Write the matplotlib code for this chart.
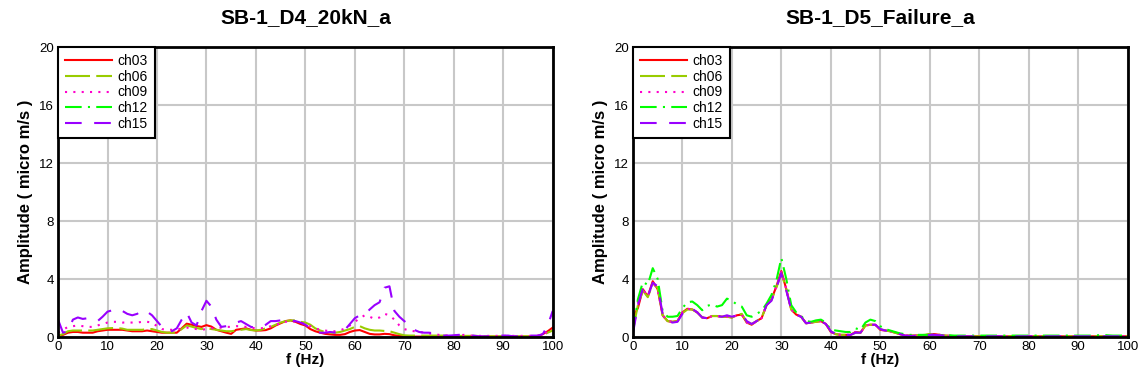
import numpy as np
import matplotlib
matplotlib.use("Agg")
import matplotlib.pyplot as plt

plt.rcParams["font.family"] = ["Liberation Sans", "DejaVu Sans"]

# frequency axis shared by both panels (1 Hz steps)
freq = list(range(0, 101))

titles = ["SB-1_D4_20kN_a", "SB-1_D5_Failure_a"]
channels = ["ch03", "ch06", "ch09", "ch12", "ch15"]

# --- left panel: SB-1_D4_20kN_a ---
d4_ch03 = [0.1, 0.15, 0.3, 0.35, 0.35, 0.3, 0.3, 0.3, 0.4, 0.45,
           0.5, 0.5, 0.5, 0.5, 0.45, 0.4, 0.4, 0.4, 0.45, 0.4,
           0.35, 0.3, 0.3, 0.3, 0.3, 0.6, 0.92, 0.85, 0.76, 0.7,
           0.82, 0.72, 0.5, 0.4, 0.3, 0.22, 0.5, 0.55, 0.6, 0.5,
           0.45, 0.45, 0.48, 0.6, 0.8, 0.95, 1.1, 1.15, 1.05, 0.9,
           0.8, 0.55, 0.4, 0.3, 0.22, 0.18, 0.15, 0.15, 0.2, 0.35,
           0.45, 0.48, 0.35, 0.22, 0.18, 0.18, 0.22, 0.2, 0.12, 0.08,
           0.06, 0.04, 0.03, 0.03, 0.03, 0.03, 0.03, 0.03, 0.03, 0.03,
           0.03, 0.03, 0.03, 0.03, 0.03, 0.03, 0.03, 0.03, 0.03, 0.03,
           0.03, 0.03, 0.03, 0.03, 0.03, 0.03, 0.03, 0.05, 0.2, 0.4,
           0.65]
d4_ch06 = [0.1, 0.2, 0.4, 0.45, 0.45, 0.45, 0.45, 0.45, 0.5, 0.55,
           0.6, 0.62, 0.62, 0.58, 0.5, 0.5, 0.5, 0.5, 0.55, 0.55,
           0.45, 0.35, 0.3, 0.3, 0.3, 0.55, 0.8, 0.72, 0.62, 0.55,
           0.6, 0.55, 0.5, 0.45, 0.4, 0.4, 0.45, 0.5, 0.55, 0.48,
           0.45, 0.5, 0.6, 0.7, 0.85, 1.0, 1.1, 1.15, 1.15, 1.05,
           1.0, 0.85, 0.6, 0.45, 0.35, 0.3, 0.3, 0.35, 0.45, 0.55,
           0.7, 0.75, 0.6, 0.5, 0.45, 0.45, 0.42, 0.4, 0.3, 0.2,
           0.12, 0.1, 0.1, 0.1, 0.1, 0.1, 0.1, 0.1, 0.1, 0.1,
           0.08, 0.08, 0.08, 0.08, 0.08, 0.08, 0.05, 0.05, 0.05, 0.05,
           0.05, 0.05, 0.05, 0.05, 0.05, 0.05, 0.05, 0.08, 0.15, 0.3,
           0.45]
d4_ch09 = [0.3, 0.5, 0.7, 0.75, 0.8, 0.75, 0.7, 0.7, 0.8, 0.9,
           1.0, 1.05, 1.05, 1.0, 1.0, 1.0, 1.0, 1.05, 1.05, 1.0,
           0.75, 0.55, 0.5, 0.5, 0.5, 0.6, 0.65, 0.6, 0.55, 0.5,
           0.55, 0.6, 0.6, 0.65, 0.7, 0.7, 0.75, 0.75, 0.7, 0.65,
           0.6, 0.6, 0.65, 0.75, 0.85, 0.95, 1.05, 1.1, 1.05, 1.0,
           0.9, 0.75, 0.6, 0.5, 0.45, 0.4, 0.4, 0.45, 0.6, 0.8,
           1.05, 1.3, 1.5, 1.4, 1.25, 1.35, 1.6, 1.5, 1.2, 0.8,
           0.55, 0.45, 0.4, 0.35, 0.3, 0.25, 0.2, 0.15, 0.12, 0.1,
           0.1, 0.12, 0.15, 0.12, 0.08, 0.08, 0.08, 0.08, 0.08, 0.08,
           0.08, 0.08, 0.08, 0.08, 0.08, 0.08, 0.08, 0.1, 0.2, 0.35,
           0.55]
d4_ch12 = []  # no trace drawn for ch12 in this record
d4_ch15 = [1.2, 0.3, 0.4, 1.2, 1.35, 1.25, 1.3, 1.2, 1.1, 1.4,
           1.75, 1.85, 1.7, 1.8, 1.6, 1.5, 1.6, 1.85, 1.75, 1.5,
           1.1, 0.7, 0.5, 0.4, 0.6, 1.2, 1.7, 1.0, 0.8, 1.8,
           2.5, 2.1, 1.2, 0.7, 0.75, 0.9, 1.0, 1.1, 0.9, 0.7,
           0.65, 0.7, 0.85, 1.1, 1.1, 1.15, 1.15, 1.15, 1.1, 1.0,
           0.85, 0.6, 0.4, 0.3, 0.3, 0.35, 0.3, 0.3, 0.5, 0.9,
           1.3, 1.5, 1.55, 1.9, 2.2, 2.4, 3.4, 3.5, 1.8, 1.4,
           1.1, 0.8, 0.5, 0.35, 0.3, 0.3, 0.25, 0.15, 0.1, 0.1,
           0.12, 0.15, 0.15, 0.15, 0.1, 0.05, 0.05, 0.05, 0.1, 0.1,
           0.1, 0.1, 0.05, 0.05, 0.05, 0.1, 0.1, 0.1, 0.2, 0.8,
           1.8]

# --- right panel: SB-1_D5_Failure_a ---
d5_ch03 = [1.4, 2.0, 3.3, 2.8, 3.85, 3.3, 1.5, 1.1, 1.05, 1.1,
           1.7, 1.95, 1.9, 1.7, 1.35, 1.3, 1.45, 1.45, 1.4, 1.4,
           1.35, 1.5, 1.55, 1.0, 0.85, 1.1, 1.3, 2.2, 2.6, 3.5,
           4.55, 3.3, 1.9, 1.55, 1.4, 0.95, 1.0, 1.05, 1.1, 0.9,
           0.35, 0.2, 0.15, 0.15, 0.15, 0.35, 0.3, 0.8, 0.85, 0.85,
           0.5, 0.45, 0.4, 0.3, 0.2, 0.1, 0.1, 0.1, 0.12, 0.12,
           0.2, 0.2, 0.15, 0.1, 0.08, 0.06, 0.06, 0.05, 0.05, 0.05,
           0.05, 0.05, 0.05, 0.05, 0.05, 0.05, 0.05, 0.05, 0.05, 0.05,
           0.05, 0.05, 0.05, 0.05, 0.05, 0.05, 0.05, 0.05, 0.05, 0.05,
           0.05, 0.05, 0.05, 0.05, 0.05, 0.05, 0.05, 0.05, 0.05, 0.05,
           0.05]
d5_ch06 = [0.5, 2.2, 3.2, 2.75, 3.7, 3.4, 1.5, 1.1, 1.05, 1.1,
           1.65, 1.9, 1.9, 1.7, 1.35, 1.3, 1.45, 1.45, 1.4, 1.4,
           1.35, 1.5, 1.6, 1.05, 0.9, 1.1, 1.3, 2.2, 2.55, 3.4,
           4.4, 3.3, 1.9, 1.55, 1.4, 0.95, 1.0, 1.05, 1.1, 0.9,
           0.4, 0.2, 0.15, 0.15, 0.15, 0.3, 0.3, 0.8, 0.85, 0.85,
           0.55, 0.45, 0.4, 0.3, 0.2, 0.1, 0.1, 0.1, 0.12, 0.15,
           0.2, 0.22, 0.15, 0.1, 0.08, 0.06, 0.06, 0.05, 0.05, 0.05,
           0.05, 0.05, 0.05, 0.05, 0.05, 0.05, 0.05, 0.05, 0.05, 0.05,
           0.05, 0.05, 0.05, 0.05, 0.05, 0.05, 0.05, 0.05, 0.05, 0.05,
           0.05, 0.05, 0.05, 0.05, 0.05, 0.05, 0.05, 0.05, 0.05, 0.05,
           0.05]
d5_ch09 = [2.9, 2.4, 3.3, 2.8, 3.8, 3.3, 1.5, 1.1, 1.05, 1.1,
           1.7, 1.95, 1.9, 1.7, 1.35, 1.3, 1.45, 1.45, 1.4, 1.4,
           1.35, 1.5, 1.55, 1.0, 0.85, 1.1, 1.3, 2.2, 2.6, 3.5,
           4.5, 3.3, 1.9, 1.55, 1.4, 0.95, 1.0, 1.05, 1.1, 0.9,
           0.35, 0.2, 0.15, 0.15, 0.15, 0.35, 0.3, 0.8, 0.85, 0.85,
           0.5, 0.45, 0.4, 0.3, 0.2, 0.1, 0.1, 0.1, 0.12, 0.12,
           0.18, 0.18, 0.15, 0.1, 0.08, 0.06, 0.06, 0.05, 0.05, 0.05,
           0.05, 0.05, 0.05, 0.05, 0.05, 0.05, 0.05, 0.05, 0.05, 0.05,
           0.05, 0.05, 0.05, 0.05, 0.05, 0.05, 0.05, 0.05, 0.05, 0.05,
           0.05, 0.05, 0.05, 0.05, 0.05, 0.05, 0.05, 0.05, 0.05, 0.05,
           0.05]
d5_ch12 = [0.3, 2.6, 3.8, 3.6, 4.75, 4.0, 1.8, 1.4, 1.4, 1.45,
           2.0, 2.4, 2.45, 2.2, 1.85, 2.15, 2.25, 2.1, 2.2, 2.65,
           2.5, 2.25, 2.1, 1.5, 1.4, 1.6, 1.8, 2.3, 2.9, 3.9,
           5.45, 4.0, 2.2, 1.7, 1.45, 1.1, 1.05, 1.15, 1.2, 1.0,
           0.5, 0.45, 0.4, 0.35, 0.35, 0.6, 0.5, 1.0, 1.2, 1.1,
           0.75, 0.55, 0.45, 0.35, 0.25, 0.2, 0.15, 0.15, 0.15, 0.15,
           0.15, 0.15, 0.12, 0.12, 0.12, 0.1, 0.1, 0.1, 0.1, 0.1,
           0.1, 0.1, 0.1, 0.1, 0.1, 0.1, 0.1, 0.1, 0.1, 0.1,
           0.1, 0.1, 0.1, 0.1, 0.1, 0.1, 0.1, 0.1, 0.1, 0.1,
           0.1, 0.1, 0.1, 0.1, 0.12, 0.15, 0.12, 0.1, 0.1, 0.1,
           0.1]
d5_ch15 = [0.25, 2.2, 3.35, 2.8, 3.75, 3.5, 1.6, 1.1, 1.0, 1.05,
           1.6, 1.95, 1.95, 1.7, 1.35, 1.3, 1.45, 1.45, 1.4, 1.5,
           1.4, 1.5, 1.6, 1.1, 0.9, 1.1, 1.3, 2.2, 2.5, 3.4,
           4.4, 3.2, 1.9, 1.55, 1.4, 0.95, 1.0, 1.05, 1.1, 0.9,
           0.4, 0.2, 0.15, 0.15, 0.15, 0.3, 0.3, 0.75, 0.85, 0.85,
           0.55, 0.45, 0.4, 0.3, 0.2, 0.1, 0.08, 0.08, 0.08, 0.1,
           0.15, 0.15, 0.12, 0.1, 0.08, 0.05, 0.05, 0.05, 0.05, 0.05,
           0.05, 0.05, 0.05, 0.05, 0.05, 0.05, 0.05, 0.05, 0.05, 0.05,
           0.05, 0.05, 0.05, 0.05, 0.05, 0.05, 0.05, 0.05, 0.05, 0.05,
           0.05, 0.05, 0.05, 0.05, 0.05, 0.05, 0.05, 0.05, 0.05, 0.05,
           0.05]

panels = [
    [d4_ch03, d4_ch06, d4_ch09, d4_ch12, d4_ch15],
    [d5_ch03, d5_ch06, d5_ch09, d5_ch12, d5_ch15],
]

x_ticks = [0, 10, 20, 30, 40, 50, 60, 70, 80, 90, 100]
y_ticks = [0, 4, 8, 12, 16, 20]

# line styles per channel
COLORS = ["#ff0000", "#99cc00", "#ff00cc", "#00ff00", "#9900ff"]
DASHES = [None, (12, 3), (1, 3), (8, 3, 1, 3), (8, 6)]
LW = 1.5

fig = plt.figure(figsize=(11.45, 3.83), dpi=100)
positions = [[0.0507, 0.120, 0.432, 0.757], [0.5528, 0.120, 0.432, 0.757]]

for pos, title, series in zip(positions, titles, panels):
    ax = fig.add_axes(pos)
    handles = []
    for name, vals, color, dash in zip(channels, series, COLORS, DASHES):
        xs = freq[:len(vals)]
        line, = ax.plot(xs, vals, color=color, lw=LW, label=name)
        if dash is not None:
            line.set_dashes(dash)
        handles.append(line)

    ax.set_xlim(0, 100)
    ax.set_ylim(0, 20)
    ax.set_xticks(x_ticks)
    ax.set_yticks(y_ticks)
    ax.grid(True, color="#c8c8c8", lw=1.5)
    ax.set_axisbelow(True)
    ax.tick_params(length=0, labelsize=9.5, pad=3)
    for sp in ax.spines.values():
        sp.set_linewidth(2)
        sp.set_color("black")

    ax.set_title(title, fontsize=15, fontweight="bold", pad=17)
    ax.set_xlabel("f (Hz)", fontsize=11, fontweight="bold", labelpad=0)
    ax.set_ylabel("Amplitude ( micro m/s )", fontsize=12, fontweight="bold", labelpad=4)

    leg = ax.legend(handles=handles, loc="upper left", borderaxespad=0,
                    fontsize=10, handlelength=3.4, handletextpad=0.4,
                    labelspacing=0.12, borderpad=0.5, fancybox=False,
                    framealpha=1)
    leg.get_frame().set_edgecolor("black")
    leg.get_frame().set_linewidth(1.5)

fig.savefig("out.png", dpi=100)
